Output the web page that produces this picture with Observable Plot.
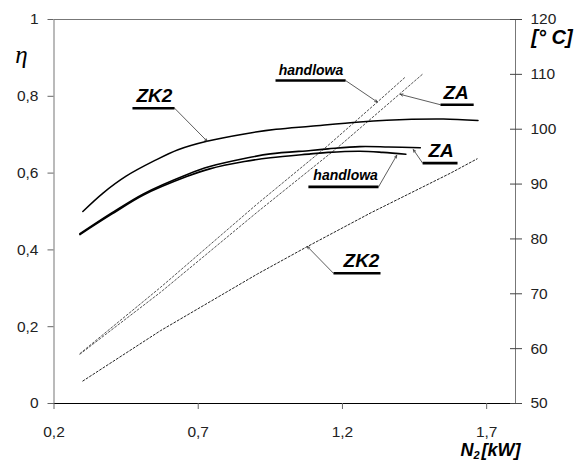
<!DOCTYPE html>
<html><head><meta charset="utf-8">
<script src="https://cdn.jsdelivr.net/npm/d3@7"></script>
<script src="https://cdn.jsdelivr.net/npm/@observablehq/plot@0.6"></script>
<style>body{margin:0;background:#fff}</style>
</head><body><div id="chart"></div>
<script>
// Axis ticks
const etaTicks = [0, 0.2, 0.4, 0.6, 0.8, 1];
const tempTicks = [50, 60, 70, 80, 90, 100, 110, 120];
const xTicks = [0.2, 0.7, 1.2, 1.7];

// Efficiency (left axis, solid lines)
const zk2EtaX = [0.30, 0.37, 0.45, 0.55, 0.63, 0.73, 0.86, 0.97, 1.09, 1.26, 1.44, 1.55, 1.67];
const zk2Eta  = [0.500, 0.548, 0.592, 0.633, 0.661, 0.683, 0.702, 0.714, 0.722, 0.733, 0.740, 0.741, 0.737];
const zaEtaX  = [0.29, 0.40, 0.51, 0.66, 0.74, 0.86, 0.95, 1.09, 1.15, 1.26, 1.36, 1.47];
const zaEta   = [0.442, 0.496, 0.546, 0.596, 0.617, 0.638, 0.650, 0.659, 0.663, 0.669, 0.668, 0.666];
const hdEtaX  = [0.29, 0.40, 0.51, 0.66, 0.74, 0.86, 0.95, 1.09, 1.15, 1.26, 1.34, 1.42];
const hdEta   = [0.440, 0.493, 0.543, 0.591, 0.611, 0.630, 0.640, 0.650, 0.654, 0.657, 0.654, 0.649];

// Temperature (right axis, dotted lines)
const hdTX = [0.29, 0.57, 0.905, 1.147, 1.32, 1.42];
const hdT  = [59.1, 71.2, 86.4, 96.9, 104.9, 109.6];
const zaTX = [0.29, 0.57, 0.905, 1.182, 1.40, 1.477];
const zaT  = [59.0, 70.3, 84.9, 96.6, 106.5, 110.0];
const zk2TX = [0.30, 0.57, 0.905, 1.078, 1.30, 1.575, 1.667];
const zk2T  = [54.1, 63.3, 73.6, 78.6, 84.8, 92.0, 94.6];

// Annotations (data units: x in kW, y in eta)
const labText  = ["ZK2", "handlowa", "ZA", "ZA", "handlowa", "ZK2"];
const labX     = [0.548, 1.091, 1.594, 1.542, 1.211, 1.266];
const labY     = [0.800, 0.867, 0.809, 0.658, 0.594, 0.372];
const labSize  = [19, 14, 19, 19, 14, 19];
const ulX1 = [0.472, 0.968, 1.540, 1.478, 1.082, 1.169];
const ulX2 = [0.618, 1.211, 1.655, 1.599, 1.325, 1.332];
const ulY  = [0.769, 0.841, 0.778, 0.626, 0.564, 0.339];
const ldX1 = [0.618, 1.211, 1.540, 1.478, 1.325, 1.169];
const ldY1 = [0.769, 0.841, 0.778, 0.626, 0.564, 0.339];
const ldX2 = [0.731, 1.321, 1.401, 1.446, 1.388, 1.078];
const ldY2 = [0.683, 0.785, 0.805, 0.661, 0.646, 0.409];

const toEta = t => (t - 50) / 70;
const comma = d => String(d).replace(".", ",");
const pts = (xs, ys, f = v => v) => xs.map((x, i) => ({x, y: f(ys[i])}));
const ann = labText.map((t, i) => ({t, x: labX[i], y: labY[i], s: labSize[i],
  ux1: ulX1[i], ux2: ulX2[i], uy: ulY[i], lx1: ldX1[i], ly1: ldY1[i], lx2: ldX2[i], ly2: ldY2[i]}));

const font = "'Liberation Sans', Arial, sans-serif";
const dotted = {x: "x", y: "y", stroke: "#555", strokeWidth: 1, strokeDasharray: "2,2"};

const chart = Plot.plot({
  width: 577, height: 473,
  marginLeft: 53.5, marginRight: 62, marginTop: 19, marginBottom: 70,
  style: {fontFamily: font, fontSize: "15px", color: "#222", background: "#fff"},
  x: {domain: [0.2, 1.8]},
  y: {domain: [0, 1]},
  marks: [
    Plot.frame({stroke: "#777"}),
    Plot.ruleY([0], {stroke: "#000"}),
    Plot.axisY({ticks: etaTicks, tickFormat: comma, tickSize: 6, tickPadding: 9.5, label: null, fontSize: 15.5, stroke: "#666"}),
    Plot.axisY({anchor: "right", ticks: tempTicks.map(toEta), tickFormat: d => Math.round(50 + 70 * d), tickSize: 6, tickPadding: 9, label: null, fontSize: 15.5, stroke: "#444"}),
    Plot.axisY({anchor: "right", ticks: tempTicks.map(toEta), tickSize: 6, dx: -6, text: null, label: null, stroke: "#444"}),
    Plot.axisX({ticks: xTicks, tickFormat: comma, tickSize: 6, tickPadding: 16, label: null, fontSize: 15.5, stroke: "#666"}),
    // temperature lines
    Plot.line(pts(hdTX, hdT, toEta), dotted),
    Plot.line(pts(zaTX, zaT, toEta), dotted),
    Plot.line(pts(zk2TX, zk2T, toEta), {...dotted, stroke: "#222"}),
    // efficiency lines
    Plot.line(pts(zk2EtaX, zk2Eta), {x: "x", y: "y", curve: "catmull-rom", stroke: "#000", strokeWidth: 1.5}),
    Plot.line(pts(zaEtaX, zaEta), {x: "x", y: "y", curve: "catmull-rom", stroke: "#000", strokeWidth: 1.6}),
    Plot.line(pts(hdEtaX, hdEta), {x: "x", y: "y", curve: "catmull-rom", stroke: "#000", strokeWidth: 1.6}),
    // annotations
    Plot.link(ann, {x1: "ux1", x2: "ux2", y1: "uy", y2: "uy", stroke: "#000", strokeWidth: 2.6}),
    Plot.arrow(ann, {x1: "lx1", y1: "ly1", x2: "lx2", y2: "ly2", stroke: "#333", strokeWidth: 0.8, headLength: 5, headAngle: 50}),
    Plot.text(ann, {x: "x", y: "y", text: "t", fontSize: "s", fontWeight: "bold", fontStyle: "italic", fill: "#000", textAnchor: "middle", lineAnchor: "middle"}),
    // axis titles
    Plot.text(["η"], {frameAnchor: "top-left", dx: -32.5, dy: 43, text: d => d, fontFamily: "'Liberation Serif', 'Times New Roman', serif", fontStyle: "italic", fontSize: 25, fill: "#000", lineAnchor: "bottom", textAnchor: "middle"}),
    Plot.text(["[° C]"], {frameAnchor: "top-right", dx: 36.5, dy: 18, text: d => d, fontWeight: "bold", fontStyle: "italic", fontSize: 20, fill: "#000", lineAnchor: "middle", textAnchor: "middle"}),
    Plot.text(["N"], {frameAnchor: "bottom-right", dx: -55, dy: 47, text: d => d, fontWeight: "bold", fontStyle: "italic", fontSize: 18, fill: "#000", lineAnchor: "middle", textAnchor: "start"}),
    Plot.text(["2"], {frameAnchor: "bottom-right", dx: -42, dy: 52, text: d => d, fontWeight: "bold", fontStyle: "italic", fontSize: 11, fill: "#000", lineAnchor: "middle", textAnchor: "start"}),
    Plot.text(["[kW]"], {frameAnchor: "bottom-right", dx: 5, dy: 47, text: d => d, fontWeight: "bold", fontStyle: "italic", fontSize: 18, fill: "#000", lineAnchor: "middle", textAnchor: "end"})
  ]
});
document.getElementById("chart").appendChild(chart);
</script>
</body></html>
